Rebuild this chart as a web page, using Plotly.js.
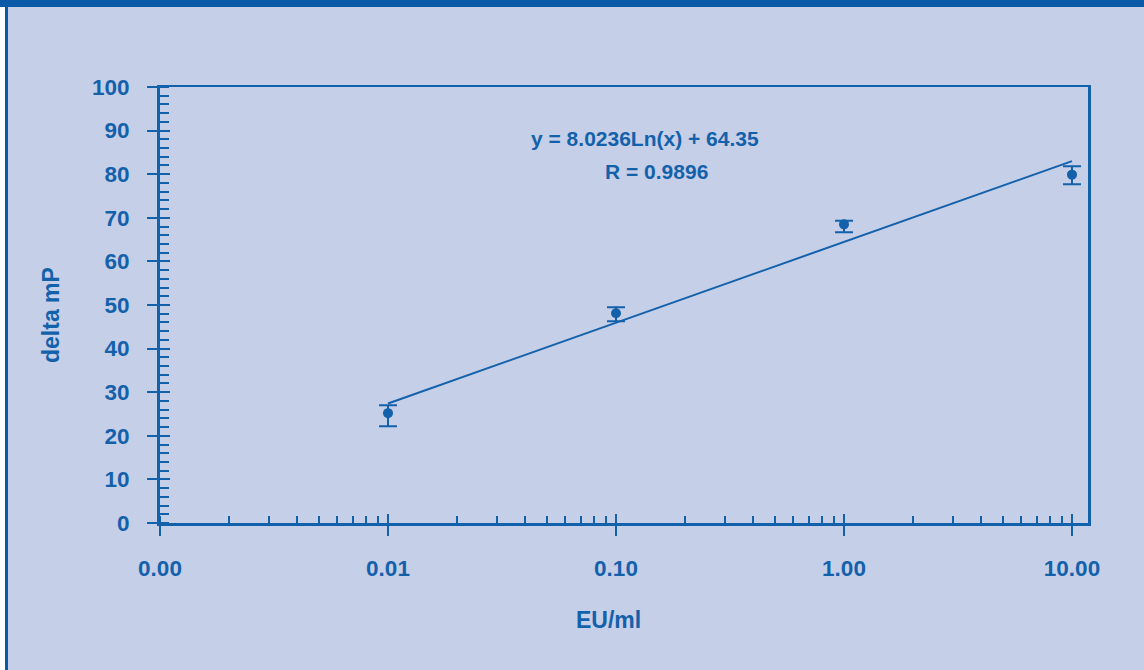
<!DOCTYPE html>
<html>
<head>
<meta charset="utf-8">
<script src="https://cdn.plot.ly/plotly-3.0.1.min.js"></script>
<style>
  html, body { margin: 0; padding: 0; background: #c5cfe8; }
  #wrap { position: relative; width: 1144px; height: 670px; overflow: hidden; }
  #chart { position: absolute; left: 0; top: 0; width: 1144px; height: 670px; }
  .deco { position: absolute; pointer-events: none; }
</style>
</head>
<body>
<div id="wrap">
  <div id="chart"></div>
  <div class="deco" style="left:0;top:0;width:1144px;height:7px;background:#0a5aa8;"></div>
  <div class="deco" style="left:0;top:7px;width:5px;height:663px;background:#ffffff;"></div>
  <div class="deco" style="left:5px;top:7px;width:3px;height:663px;background:#0a5aa8;"></div>
</div>
<script>
// Data
const concentration = [0.01, 0.1, 1, 10];          // EU/ml
const deltaMP = [25.2, 48.1, 68.5, 79.9];           // delta mP
const errPlus = [1.8, 1.4, 0.8, 1.9];
const errMinus = [3.0, 1.8, 1.8, 2.2];
// Logarithmic trend line end points (y = 8.0236Ln(x) + 64.35)
const trendX = [0.01, 10];
const trendY = [27.4, 83.0];
// Axis ticks
const xTickVals = [0.001, 0.01, 0.1, 1, 10];
const xTickText = ['0.00', '0.01', '0.10', '1.00', '10.00'];
const equationText = 'y = 8.0236Ln(x) + 64.35';
const rText = 'R = 0.9896';

const blue = '#1461ab';
const fontFam = 'Liberation Sans, Arial, sans-serif';

const traces = [
  {
    x: trendX, y: trendY, mode: 'lines', type: 'scatter',
    line: { color: blue, width: 2 }, hoverinfo: 'skip', showlegend: false
  },
  {
    x: concentration, y: deltaMP, mode: 'markers', type: 'scatter',
    marker: { color: blue, size: 10 },
    error_y: { type: 'data', symmetric: false, array: errPlus, arrayminus: errMinus,
               color: blue, thickness: 2, width: 9 },
    showlegend: false
  },
  {
    x: concentration, y: deltaMP, mode: 'markers', type: 'scatter',
    xaxis: 'x2', yaxis: 'y2', marker: { opacity: 0 }, hoverinfo: 'skip', showlegend: false
  }
];

const xRange = [-3, 1.0702];
const yRange = [0, 100];

const layout = {
  width: 1144, height: 670,
  paper_bgcolor: 'rgba(0,0,0,0)',
  plot_bgcolor: 'rgba(0,0,0,0)',
  margin: { l: 160, r: 56, t: 87, b: 147 },
  showlegend: false,
  font: { family: fontFam, color: blue, size: 22 },
  xaxis: {
    type: 'log', range: xRange, autorange: false,
    tickmode: 'array', tickvals: xTickVals, ticktext: xTickText,
    ticks: 'outside', ticklen: 10, tickwidth: 2, tickcolor: blue,
    minor: { ticks: 'inside', ticklen: 7, tickwidth: 2, tickcolor: blue, dtick: 'D1' },
    showline: true, linecolor: blue, linewidth: 2.5, mirror: true,
    showgrid: false, zeroline: false,
    ticklabelstandoff: 13,
    tickfont: { family: fontFam, color: blue, size: 22.5, weight: 'bold' }
  },
  xaxis2: {
    type: 'log', range: xRange, autorange: false, overlaying: 'x', anchor: 'y', side: 'bottom',
    tickmode: 'array', tickvals: xTickVals,
    ticks: 'inside', ticklen: 9, tickwidth: 2, tickcolor: blue,
    showticklabels: false, showline: false, showgrid: false, zeroline: false
  },
  yaxis: {
    range: yRange, autorange: false, dtick: 10, tick0: 0,
    ticks: 'outside', ticklen: 10, tickwidth: 2, tickcolor: blue,
    minor: { ticks: 'inside', ticklen: 9, tickwidth: 2, tickcolor: blue, dtick: 2 },
    showline: true, linecolor: blue, linewidth: 3, mirror: true,
    showgrid: false, zeroline: false,
    ticklabelstandoff: 13,
    tickfont: { family: fontFam, color: blue, size: 22.5, weight: 'bold' }
  },
  yaxis2: {
    range: yRange, autorange: false, overlaying: 'y', anchor: 'x', side: 'left',
    dtick: 10, tick0: 0,
    ticks: 'inside', ticklen: 10, tickwidth: 2, tickcolor: blue,
    showticklabels: false, showline: false, showgrid: false, zeroline: false
  },
  annotations: [
    { xref: 'paper', yref: 'paper', x: (645 - 160) / 928, y: (523 - 138) / 436,
      text: equationText, showarrow: false, xanchor: 'center', yanchor: 'middle',
      font: { family: fontFam, color: blue, size: 21, weight: 'bold' } },
    { xref: 'paper', yref: 'paper', x: (656 - 160) / 928, y: (523 - 171) / 436,
      text: rText, showarrow: false, xanchor: 'center', yanchor: 'middle',
      font: { family: fontFam, color: blue, size: 21, weight: 'bold' } },
    { xref: 'paper', yref: 'paper', x: (608 - 160) / 928, y: (523 - 620) / 436,
      text: 'EU/ml', showarrow: false, xanchor: 'center', yanchor: 'middle',
      font: { family: fontFam, color: blue, size: 23, weight: 'bold' } },
    { xref: 'paper', yref: 'paper', x: (51 - 160) / 928, y: (523 - 315) / 436,
      text: 'delta mP', showarrow: false, textangle: -90, xanchor: 'center', yanchor: 'middle',
      font: { family: fontFam, color: blue, size: 23, weight: 'bold' } }
  ]
};

Plotly.newPlot('chart', traces, layout, { staticPlot: true, displayModeBar: false });
</script>
</body>
</html>
